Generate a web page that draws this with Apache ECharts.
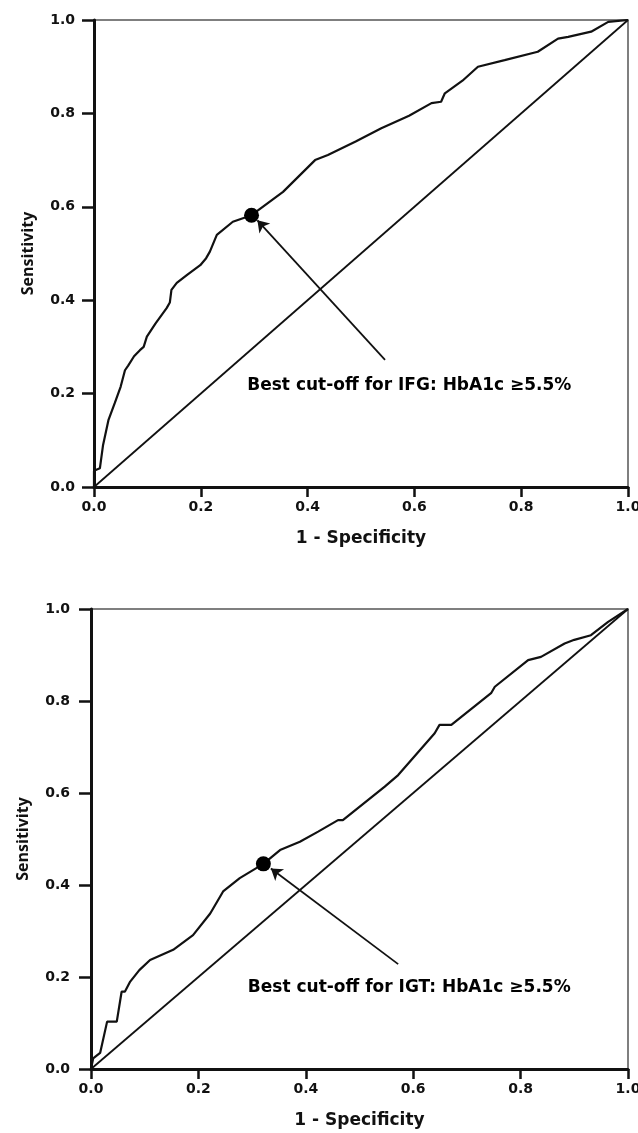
<!DOCTYPE html>
<html>
<head>
<meta charset="utf-8">
<script src="https://cdn.jsdelivr.net/npm/echarts@6/dist/echarts.min.js"></script>
<style>
html,body{margin:0;padding:0;background:#fff;overflow:hidden;}
#chart{width:638px;height:1133px;display:block;}
</style>
</head>
<body>
<div id="chart"></div>
<script>
// ---- Data ----
const tickLabels = ['0.0', '0.2', '0.4', '0.6', '0.8', '1.0'];
const xAxisTitle = '1 - Specificity';
const yAxisTitle = 'Sensitivity';

// IFG ROC curve (1 - specificity, sensitivity)
const ifgFpr = [0, 0, 0.011, 0.017, 0.027, 0.039, 0.05, 0.058, 0.064, 0.075, 0.086, 0.093, 0.099, 0.115, 0.136, 0.142, 0.145, 0.155, 0.175, 0.199, 0.21, 0.217, 0.23, 0.26, 0.295, 0.354, 0.414, 0.438, 0.49, 0.538, 0.59, 0.632, 0.65, 0.657, 0.69, 0.719, 0.769, 0.831, 0.869, 0.888, 0.931, 0.963, 1.0];
const ifgTpr = [0, 0.035, 0.04, 0.09, 0.143, 0.18, 0.215, 0.25, 0.26, 0.28, 0.293, 0.3, 0.322, 0.35, 0.383, 0.395, 0.422, 0.437, 0.455, 0.475, 0.49, 0.504, 0.54, 0.568, 0.582, 0.632, 0.70, 0.711, 0.74, 0.768, 0.795, 0.822, 0.825, 0.843, 0.87, 0.90, 0.914, 0.932, 0.96, 0.964, 0.975, 0.996, 1.0];

// IGT ROC curve
const igtFpr = [0, 0.004, 0.017, 0.03, 0.048, 0.057, 0.063, 0.073, 0.09, 0.11, 0.153, 0.19, 0.222, 0.246, 0.277, 0.321, 0.352, 0.389, 0.423, 0.46, 0.469, 0.547, 0.572, 0.64, 0.649, 0.671, 0.745, 0.752, 0.814, 0.838, 0.882, 0.9, 0.931, 0.963, 1.0];
const igtTpr = [0, 0.023, 0.035, 0.103, 0.103, 0.168, 0.168, 0.19, 0.215, 0.237, 0.259, 0.291, 0.338, 0.386, 0.415, 0.446, 0.476, 0.494, 0.516, 0.541, 0.541, 0.614, 0.639, 0.73, 0.748, 0.748, 0.817, 0.831, 0.889, 0.896, 0.925, 0.933, 0.943, 0.972, 1.0];

// Reference (chance) line
const refFpr = [0, 1];
const refTpr = [0, 1];

// Best cut-off points
const ifgCut = [0.295, 0.582];
const igtCut = [0.321, 0.446];

// Annotation arrows [tail, head] and label anchors
const ifgArrow = [[0.545, 0.272], [0.306, 0.571]];
const igtArrow = [[0.572, 0.228], [0.335, 0.436]];
const ifgLabelPos = [0.287, 0.218];
const igtLabelPos = [0.292, 0.178];
const ifgLabel = 'Best cut-off for IFG: HbA1c \u22655.5%';
const igtLabel = 'Best cut-off for IGT: HbA1c \u22655.5%';

// ---- Build ----
const zip = (a, b) => a.map((v, i) => [v, b[i]]);
const FONT = 'DejaVu Sans';

function xAxisCfg(gridIndex) {
  return {
    type: 'value', gridIndex, min: 0, max: 1, interval: 0.2,
    name: xAxisTitle, nameLocation: 'middle', nameGap: 43,
    nameTextStyle: { fontFamily: FONT, fontWeight: 'bold', fontSize: 17, color: '#111' },
    axisLine: { show: true, lineStyle: { color: '#111', width: 3 } },
    axisTick: { show: true, inside: false, length: 10, lineStyle: { color: '#111', width: 2.5 } },
    axisLabel: { margin: 13, fontFamily: FONT, fontWeight: 'bold', fontSize: 14, color: '#111',
      formatter: (v) => tickLabels[Math.round(v * 5)] },
    splitLine: { show: false }
  };
}
function yAxisCfg(gridIndex, gap, margin) {
  return {
    type: 'value', gridIndex, min: 0, max: 1, interval: 0.2,
    name: yAxisTitle, nameLocation: 'middle', nameGap: gap, nameRotate: 90,
    nameTextStyle: { fontFamily: 'Open Sans', fontWeight: 'bold', fontSize: 16, color: '#111' },
    axisLine: { show: true, lineStyle: { color: '#111', width: 3 } },
    axisTick: { show: true, inside: false, length: 12, lineStyle: { color: '#111', width: 2.5 } },
    axisLabel: { margin: margin, fontFamily: FONT, fontWeight: 'bold', fontSize: 14, color: '#111',
      formatter: (v) => tickLabels[Math.round(v * 5)] },
    splitLine: { show: false }
  };
}

function panelSeries(idx, fpr, tpr, cut, arrow, labelPos, labelText) {
  return [
    { type: 'line', xAxisIndex: idx, yAxisIndex: idx, data: zip(fpr, tpr), showSymbol: false,
      lineStyle: { color: '#111', width: 2.2 }, silent: true, z: 3 },
    { type: 'line', xAxisIndex: idx, yAxisIndex: idx, data: zip(refFpr, refTpr), showSymbol: false,
      lineStyle: { color: '#111', width: 1.8 }, silent: true, z: 2 },
    { type: 'scatter', xAxisIndex: idx, yAxisIndex: idx, data: [cut], symbolSize: 15,
      itemStyle: { color: '#000', opacity: 1 }, z: 5 },
    { type: 'lines', coordinateSystem: 'cartesian2d', xAxisIndex: idx, yAxisIndex: idx,
      data: [{ coords: arrow }], symbol: ['none', 'arrow'], symbolSize: 11,
      lineStyle: { color: '#111', width: 1.8, opacity: 1 }, z: 4 },
    { type: 'scatter', xAxisIndex: idx, yAxisIndex: idx, data: [labelPos], symbolSize: 0,
      itemStyle: { opacity: 1, color: '#000' },
      label: { show: true, position: 'right', distance: 0, formatter: labelText,
        fontFamily: FONT, fontWeight: 'bold', fontSize: 17, color: '#000', opacity: 1 }, z: 4 }
  ];
}

const chart = echarts.init(document.getElementById('chart'), null, { renderer: 'canvas', width: 638, height: 1133 });
chart.setOption({
  backgroundColor: '#fff',
  animation: false,
  grid: [
    { left: 94, right: 10, top: 20, height: 467, outerBoundsMode: 'none', containLabel: false,
      show: true, borderColor: '#555', borderWidth: 1.5, backgroundColor: 'transparent' },
    { left: 91, right: 10, top: 609, height: 460, outerBoundsMode: 'none', containLabel: false,
      show: true, borderColor: '#555', borderWidth: 1.5, backgroundColor: 'transparent' }
  ],
  xAxis: [xAxisCfg(0), xAxisCfg(1)],
  yAxis: [yAxisCfg(0, 58, 19), yAxisCfg(1, 60, 21)],
  series: [
    ...panelSeries(0, ifgFpr, ifgTpr, ifgCut, ifgArrow, ifgLabelPos, ifgLabel),
    ...panelSeries(1, igtFpr, igtTpr, igtCut, igtArrow, igtLabelPos, igtLabel)
  ]
});
</script>
</body>
</html>
